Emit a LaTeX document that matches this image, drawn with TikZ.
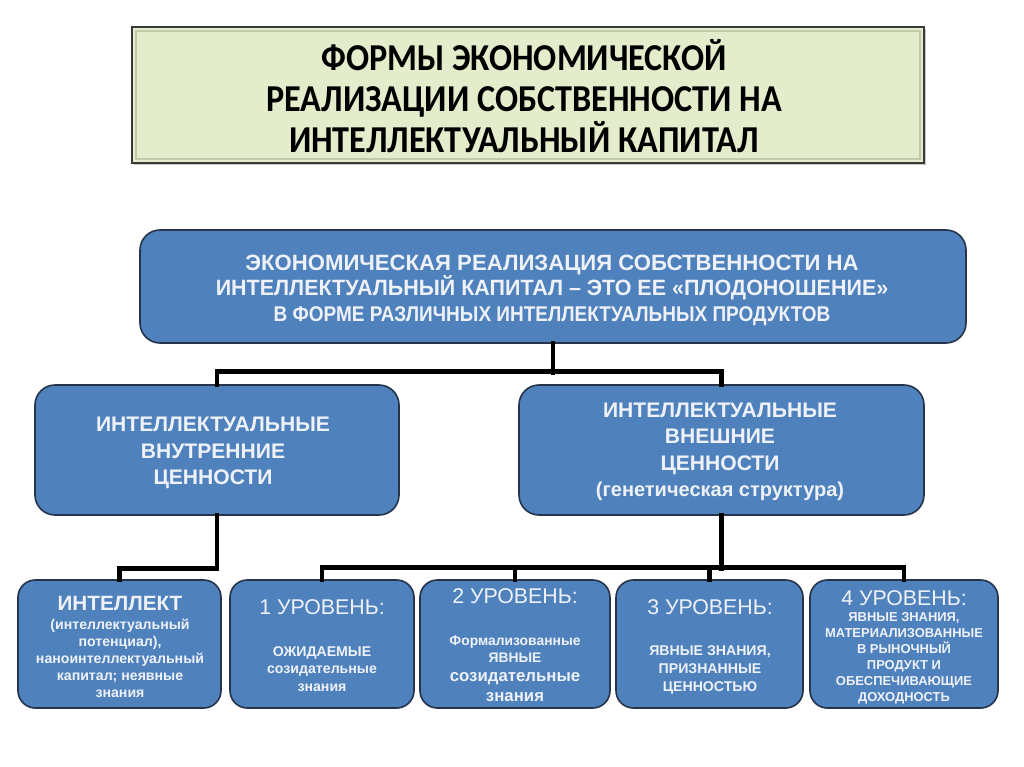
\documentclass[tikz,border=0pt]{standalone}
\usepackage{fontspec}
\setmainfont{Liberation Sans}
\newfontfamily\titlefont[FakeStretch=0.9]{Carlito}
\newfontfamily\narrowfont[FakeStretch=0.97]{Liberation Sans}
\newfontfamily\narrowerfont[FakeStretch=0.89]{Liberation Sans}
\usetikzlibrary{fit,shadows}
\definecolor{boxblue}{HTML}{4F81BD}
\definecolor{boxedge}{HTML}{25344A}
\definecolor{boxtext}{HTML}{EEF2F8}
\definecolor{titlefill}{HTML}{E3EDCB}
\definecolor{titleedge}{HTML}{3A3A3A}
\tikzset{
  bluebox/.style={draw=boxedge, line width=1.2pt, fill=boxblue, rounded corners=15pt, inner sep=0pt},
  smallbox/.style={bluebox, rounded corners=13pt},
  titlebox/.style={draw=titleedge, line width=1.6pt, fill=titlefill, inner sep=0pt,
     drop shadow={shadow xshift=1.5pt, shadow yshift=-1.5pt, fill=black!45}},
  btext/.style={text=boxtext, align=center, inner sep=0pt, font=\bfseries},
  conn/.style={draw=black, line width=3.6pt, line join=miter, line cap=rect},
}
\begin{document}
\begin{tikzpicture}[x=0.75pt,y=-0.75pt]
\useasboundingbox[fill=white] (0,0) rectangle (1024,767);

% title
\node[titlebox, fit={(132,27)(924,163)}] (title) {};
\draw[draw=titlefill!85!black, line width=2pt] (136,31) rectangle (920,159);
\node[align=center, inner sep=0pt, font=\titlefont\bfseries\fontsize{28.5}{30.8}\selectfont] (titletext) at (524,96)
  {ФОРМЫ ЭКОНОМИЧЕСКОЙ\\РЕАЛИЗАЦИИ СОБСТВЕННОСТИ НА\\ИНТЕЛЛЕКТУАЛЬНЫЙ КАПИТАЛ};

% top blue box
\node[bluebox, fit={(140,230)(966,343)}] (top) {};
\node[btext, font=\bfseries\fontsize{16.6}{19.2}\selectfont] (toptext) at (552,290)
  {ЭКОНОМИЧЕСКАЯ РЕАЛИЗАЦИЯ СОБСТВЕННОСТИ НА\\{\narrowfont ИНТЕЛЛЕКТУАЛЬНЫЙ КАПИТАЛ – ЭТО ЕЕ «ПЛОДОНОШЕНИЕ»}\\{\narrowerfont\fontsize{16}{19.2}\selectfont В ФОРМЕ РАЗЛИЧНЫХ ИНТЕЛЛЕКТУАЛЬНЫХ ПРОДУКТОВ}};

% middle boxes
\node[bluebox, fit={(35,385)(399,515)}] (lm) {};
\node[btext, font=\bfseries\fontsize{15.8}{20}\selectfont] (lmtext) at (213,453)
  {ИНТЕЛЛЕКТУАЛЬНЫЕ\\ВНУТРЕННИЕ\\ЦЕННОСТИ};
\node[bluebox, fit={(519,385)(924,515)}] (rm) {};
\node[btext, font=\bfseries\fontsize{15.8}{19.8}\selectfont] (rmtext) at (720,452)
  {ИНТЕЛЛЕКТУАЛЬНЫЕ\\ВНЕШНИЕ\\ЦЕННОСТИ\\{\fontsize{15}{19.8}\selectfont (генетическая структура)}};

% bottom boxes
\node[smallbox, fit={(18,580)(221,708)}] (b0) {};
\node[smallbox, fit={(230,580)(414,708)}] (b1) {};
\node[smallbox, fit={(420,580)(610,708)}] (b2) {};
\node[smallbox, fit={(616,580)(803,708)}] (b3) {};
\node[smallbox, fit={(810,580)(998,708)}] (b4) {};

\node[btext, font=\bfseries\fontsize{15.5}{18}\selectfont] (b0h) at (120,603) {ИНТЕЛЛЕКТ};
\node[btext, font=\bfseries\fontsize{10.6}{12.8}\selectfont] (b0t) at (120,658)
  {(интеллектуальный\\потенциал),\\наноинтеллектуальный\\капитал; неявные\\знания};

\node[btext, font=\mdseries\fontsize{16}{18}\selectfont] (b1h) at (322,607) {1 УРОВЕНЬ:};
\node[btext, font=\bfseries\fontsize{10.6}{13.2}\selectfont] (b1t) at (322,669)
  {ОЖИДАЕМЫЕ\\созидательные\\знания};

\node[btext, font=\mdseries\fontsize{16}{18}\selectfont] (b2h) at (515,596) {2 УРОВЕНЬ:};
\node[btext, font=\bfseries\fontsize{10.4}{12.8}\selectfont] (b2t) at (515,649)
  {Формализованные\\ЯВНЫЕ};
\node[btext, font=\bfseries\fontsize{12.6}{15.5}\selectfont] (b2u) at (515,687)
  {созидательные\\знания};

\node[btext, font=\mdseries\fontsize{16}{18}\selectfont] (b3h) at (710,607) {3 УРОВЕНЬ:};
\node[btext, font=\bfseries\fontsize{10.6}{13.5}\selectfont] (b3t) at (710,670)
  {ЯВНЫЕ ЗНАНИЯ,\\ПРИЗНАННЫЕ\\ЦЕННОСТЬЮ};

\node[btext, font=\mdseries\fontsize{16}{18}\selectfont] (b4h) at (904,598) {4 УРОВЕНЬ:};
\node[btext, font=\bfseries\fontsize{9.7}{12}\selectfont] (b4t) at (904,658)
  {ЯВНЫЕ ЗНАНИЯ,\\МАТЕРИАЛИЗОВАННЫЕ\\В РЫНОЧНЫЙ\\ПРОДУКТ И\\ОБЕСПЕЧИВАЮЩИЕ\\ДОХОДНОСТЬ};

% connectors
\draw[conn] (top.south) -- ++(0,29);
\draw[conn] (lm.north) -- ++(0,-13) -| (rm.north);
\draw[conn] (lm.south) -- ++(0,53) -| (b0.north);
\draw[conn] (rm.south) -- ++(0,53);
\draw[conn] (b1.north) -- ++(0,-12) -| (b4.north);
\draw[conn] (b2.north) -- ++(0,-12);
\draw[conn] (b3.north) -- ++(0,-12);
\end{tikzpicture}
\end{document}
